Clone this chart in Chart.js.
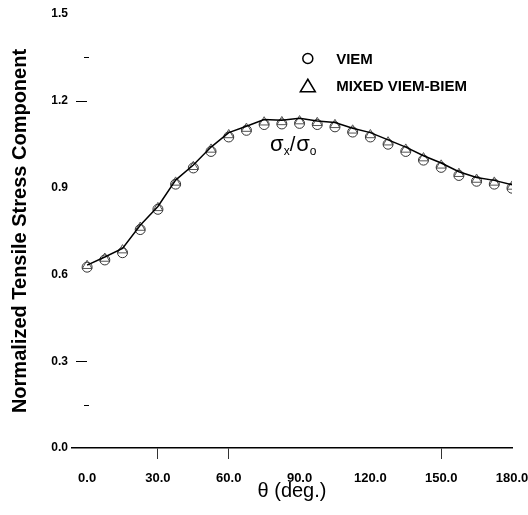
<!DOCTYPE html>
<html><head><meta charset="utf-8">
<script src="https://cdn.jsdelivr.net/npm/chart.js@4/dist/chart.umd.min.js"></script>
<style>html,body{margin:0;padding:0;background:#fff}#wrap{width:528px;height:515px}</style>
</head><body><div id="wrap"><canvas id="c" width="528" height="515"></canvas></div>
<script>
// ---- data ----
const theta = [0,7.5,15,22.5,30,37.5,45,52.5,60,67.5,75,82.5,90,97.5,105,112.5,120,127.5,135,142.5,150,157.5,165,172.5,180];
const curveValues = [0.632,0.660,0.690,0.770,0.835,0.926,0.978,1.040,1.090,1.112,1.135,1.133,1.140,1.130,1.125,1.105,1.090,1.065,1.040,1.010,0.985,0.955,0.935,0.925,0.910];
const viemValues  = [0.625,0.650,0.675,0.755,0.825,0.912,0.968,1.025,1.075,1.098,1.118,1.120,1.122,1.118,1.110,1.092,1.075,1.050,1.025,0.995,0.970,0.942,0.922,0.912,0.898];
const mixedValues = [0.630,0.655,0.684,0.762,0.830,0.918,0.972,1.032,1.082,1.104,1.126,1.127,1.130,1.124,1.117,1.098,1.082,1.057,1.032,1.002,0.977,0.948,0.928,0.918,0.904];
const xTickValues = [0,15,30,45,60,75,90,105,120,135,150,165,180];
const xLabelEvery = 30;
const xVisibleTickMarks = [30,60,150];
const yTickValues = [0,0.3,0.6,0.9,1.2,1.5];
const yMajorMarks = [1.2,0.3];
const yMinorMarks = [1.35,0.15];
const seriesNames = ['VIEM','MIXED VIEM-BIEM'];
const xTitle = 'θ (deg.)';
const yTitle = 'Normalized Tensile Stress Component';

const FONT = '"Liberation Sans", Arial, sans-serif';
const pts = vals => theta.map((t,i)=>({x:t,y:vals[i]}));

const extras = {
  id:'extras',
  afterDatasetsDraw(chart){
    const {ctx, scales:{x,y}, chartArea} = chart;
    ctx.save();
    ctx.strokeStyle='#000'; ctx.lineWidth=1;
    yMajorMarks.forEach(v=>{const py=Math.round(y.getPixelForValue(v))+0.5;ctx.beginPath();ctx.moveTo(chartArea.left+4,py);ctx.lineTo(chartArea.left+15,py);ctx.stroke();});
    yMinorMarks.forEach(v=>{const py=Math.round(y.getPixelForValue(v))+0.5;ctx.beginPath();ctx.moveTo(chartArea.left+12,py);ctx.lineTo(chartArea.left+17,py);ctx.stroke();});
    // legend
    const lx = x.getPixelForValue(93.5);
    const tx = x.getPixelForValue(105.5);
    const y1 = y.getPixelForValue(1.346);
    const y2 = y.getPixelForValue(1.252);
    ctx.lineWidth=1.5;
    ctx.beginPath(); ctx.arc(lx,y1,5,0,Math.PI*2); ctx.stroke();
    ctx.beginPath(); ctx.moveTo(lx,y2-6.5); ctx.lineTo(lx+7.5,y2+6); ctx.lineTo(lx-7.5,y2+6); ctx.closePath(); ctx.stroke();
    ctx.fillStyle='#000'; ctx.textBaseline='middle'; ctx.textAlign='left';
    ctx.font='bold 15px '+FONT;
    ctx.fillText(seriesNames[0],tx,y1+1);
    ctx.fillText(seriesNames[1],tx,y2+1);
    // sigma annotation
    let ax = x.getPixelForValue(77.5), ay = y.getPixelForValue(1.028);
    ctx.textBaseline='alphabetic';
    const parts=[['σ','22px',0],['x','12px',4],['/','20px',0],['σ','22px',0],['o','12px',4]];
    parts.forEach(([s,f,d])=>{ctx.font=f+' '+FONT;ctx.fillText(s,ax,ay+d);ax+=ctx.measureText(s).width+(s==='/'?1:0);});
    ctx.restore();
  }
};

new Chart(document.getElementById('c'),{
  type:'line',
  data:{datasets:[
    {label:'curve',data:pts(curveValues),borderColor:'#000',borderWidth:1.5,pointRadius:0,tension:0,fill:false},
    {label:seriesNames[0],data:pts(viemValues),showLine:false,pointStyle:'circle',pointRadius:5,borderColor:'#333',borderWidth:1,backgroundColor:'rgba(0,0,0,0)'},
    {label:seriesNames[1],data:pts(mixedValues),showLine:false,pointStyle:'triangle',pointRadius:5.5,borderColor:'#555',borderWidth:1,backgroundColor:'rgba(0,0,0,0)'}
  ]},
  options:{
    responsive:false,animation:false,
    layout:{padding:{top:14,right:0,left:0,bottom:0}},
    plugins:{legend:{display:false},tooltip:{enabled:false}},
    scales:{
      x:{type:'linear',min:-6.4,max:180,
        afterBuildTicks:s=>{s.ticks=xTickValues.map(v=>({value:v}));},
        afterFit:s=>{s.height=67;s.paddingRight=16;s.paddingLeft=0;},
        ticks:{autoSkip:false,maxRotation:0,padding:12,color:'#000',font:{family:FONT,size:13,weight:'bold'},
          callback:v=> (v%xLabelEvery===0 ? v.toFixed(1) : '')},
        grid:{drawOnChartArea:false,drawTicks:true,tickLength:11,
          color:c=> (c.tick && xVisibleTickMarks.includes(c.tick.value)) ? '#333' : 'rgba(0,0,0,0)'},
        border:{display:true,color:'#000',width:1.5},
        title:{display:true,text:xTitle,color:'#000',font:{family:FONT,size:20},padding:{top:0,bottom:12}}
      },
      y:{type:'linear',min:0,max:1.5,
        afterBuildTicks:s=>{s.ticks=yTickValues.map(v=>({value:v}));},
        afterFit:s=>{s.width=72;s.paddingTop=0;s.paddingBottom=0;},
        ticks:{padding:4,color:'#000',font:{family:FONT,size:12,weight:'bold'},callback:v=>v.toFixed(1)},
        grid:{display:false,drawTicks:false},
        border:{display:false},
        title:{display:true,text:yTitle,color:'#000',font:{family:FONT,size:20,weight:'bold'},padding:{top:8,bottom:0}}
      }
    }
  },
  plugins:[extras]
});
</script></body></html>
